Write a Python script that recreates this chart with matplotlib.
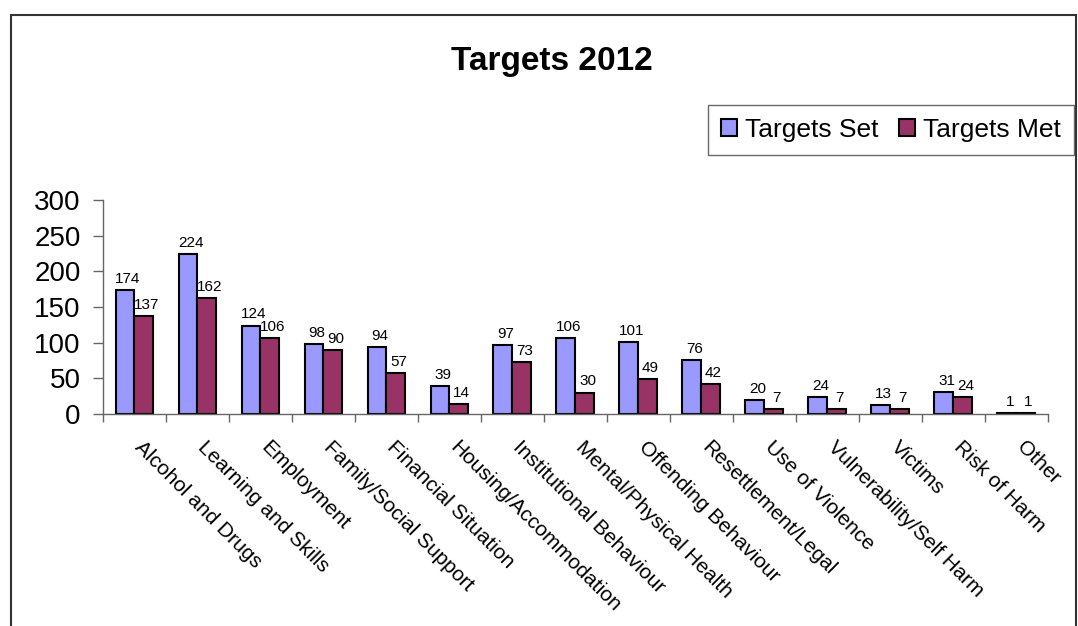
import numpy as np
import matplotlib.pyplot as plt
from matplotlib.patches import Rectangle
from matplotlib.transforms import ScaledTranslation

# Chart data
categories = ['Alcohol and Drugs', 'Learning and Skills', 'Employment',
              'Family/Social Support', 'Financial Situation',
              'Housing/Accommodation', 'Institutional Behaviour',
              'Mental/Physical Health', 'Offending Behaviour',
              'Resettlement/Legal', 'Use of Violence',
              'Vulnerability/Self Harm', 'Victims', 'Risk of Harm', 'Other']
targets_set = [174, 224, 124, 98, 94, 39, 97, 106, 101, 76, 20, 24, 13, 31, 1]
targets_met = [137, 162, 106, 90, 57, 14, 73, 30, 49, 42, 7, 7, 7, 24, 1]
y_ticks = [0, 50, 100, 150, 200, 250, 300]

plt.rcParams['font.family'] = ['Liberation Sans', 'DejaVu Sans']

fig = plt.figure(figsize=(10.78, 6.26), dpi=100)
ax = fig.add_axes([0.0955, 0.3387, 0.8765, 0.3418])

x = np.arange(len(categories))
w = 0.3
bars_set = ax.bar(x - w / 2, targets_set, w, color='#9999FF', edgecolor='black',
                  linewidth=1.5, label='Targets Set')
bars_met = ax.bar(x + w / 2, targets_met, w, color='#993366', edgecolor='black',
                  linewidth=1.5, label='Targets Met')

# value labels above bars
for bars, vals in [(bars_set, targets_set), (bars_met, targets_met)]:
    for b, v in zip(bars, vals):
        ax.annotate(str(v), (b.get_x() + b.get_width() / 2, v),
                    xytext=(2, 3), textcoords='offset points',
                    ha='center', va='bottom', fontsize=11)

ax.set_xlim(-0.5, len(categories) - 0.5)
ax.set_ylim(0, 300)
ax.set_yticks(y_ticks)
ax.tick_params(axis='y', labelsize=20, length=7, width=1, color='#666666', pad=9)

# tick marks between categories, labels at category centres
ax.set_xticks(x)
ax.set_xticklabels(categories, rotation=-45, ha='left', rotation_mode='anchor',
                   fontsize=15)
ax.tick_params(axis='x', which='major', length=0, pad=17)
ax.set_xticks(np.arange(len(categories) + 1) - 0.5, minor=True)
ax.tick_params(axis='x', which='minor', length=6, width=1, color='#666666')
shift = ScaledTranslation(10 / 100, 0, fig.dpi_scale_trans)
for lab in ax.get_xticklabels():
    lab.set_transform(lab.get_transform() + shift)

for s in ['top', 'right']:
    ax.spines[s].set_visible(False)
for s in ['left', 'bottom']:
    ax.spines[s].set_color('#666666')
    ax.spines[s].set_linewidth(1)

fig.text(0.512, 0.902, 'Targets 2012', ha='center', va='center',
         fontsize=24, fontweight='bold')

leg = fig.legend(loc='upper right', bbox_to_anchor=(0.9965, 0.8323), ncol=2,
                 fontsize=19, frameon=True, fancybox=False, borderaxespad=0,
                 handlelength=0.6, handleheight=0.6, handletextpad=0.3,
                 columnspacing=0.8, borderpad=0.5)
leg.get_frame().set_edgecolor('#444444')
leg.get_frame().set_linewidth(1)

# outer chart border (bottom edge is cut off in the original)
fig.patches.append(Rectangle((0.0102, -0.1), 0.9878, 1.076, transform=fig.transFigure,
                             fill=False, edgecolor='#333333', linewidth=1.5))

fig.savefig('out.png', dpi=100)
